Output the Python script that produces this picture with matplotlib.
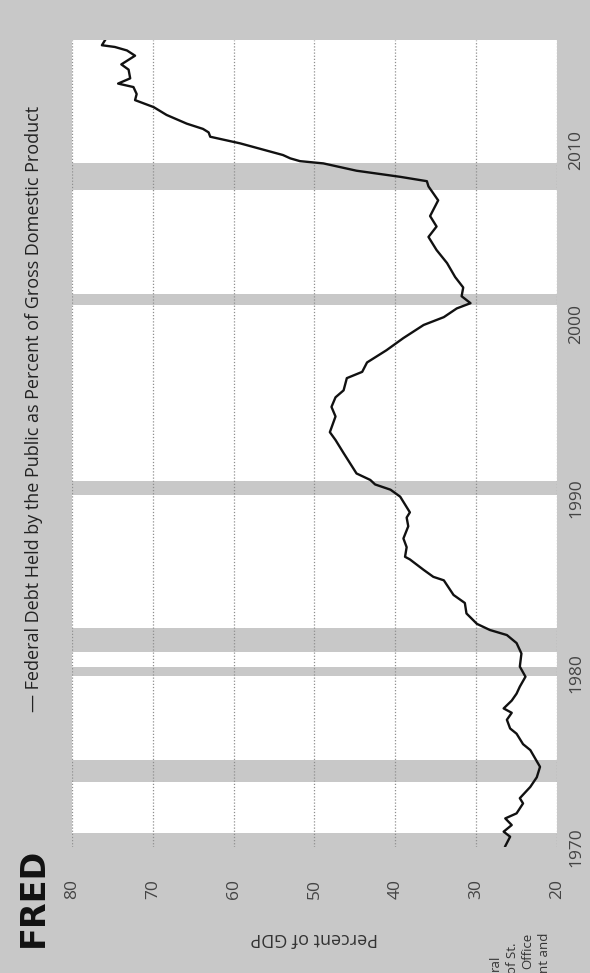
import numpy as np
import matplotlib.pyplot as plt

# decimal year and debt held by the public, percent of GDP
years = [
    1970.05, 1970.59, 1970.88, 1971.26, 1971.64, 1971.93, 1972.50, 1972.80,
    1973.45, 1974.00, 1974.60, 1975.56, 1975.90, 1976.50, 1976.80, 1977.30,
    1977.70, 1977.95, 1978.40, 1978.80, 1979.20, 1979.77, 1980.35, 1981.10,
    1981.70, 1982.16, 1982.45, 1982.80, 1983.40, 1984.00, 1984.46, 1985.30,
    1985.50, 1985.90, 1986.50, 1986.65, 1987.20, 1987.70, 1988.40, 1988.90,
    1989.20, 1990.10, 1990.50, 1990.80, 1991.06, 1991.43, 1992.60, 1993.35,
    1993.80, 1994.70, 1995.25, 1995.80, 1996.20, 1996.90, 1997.26, 1997.80,
    1998.50, 1999.20, 1999.95, 2000.40, 2000.90, 2001.20, 2001.60, 2002.10,
    2002.70, 2003.50, 2004.25, 2005.00, 2005.60, 2006.20, 2007.10, 2007.90,
    2008.20, 2008.45, 2008.80, 2009.22, 2009.35, 2009.51, 2009.70, 2010.37,
    2010.75, 2011.00, 2011.20, 2011.50, 2012.00, 2012.45, 2012.85, 2013.20,
    2013.60, 2013.80, 2014.10, 2014.60, 2014.90, 2015.40, 2015.70, 2015.90,
    2016.00, 2016.30,
]
debt_pct = [
    26.4, 25.8, 26.6, 25.6, 26.4, 25.0, 24.2, 24.6,
    23.3, 22.5, 22.1, 23.3, 24.2, 25.0, 25.8, 26.2,
    25.6, 26.6, 25.6, 25.0, 24.6, 23.9, 24.6, 24.4,
    25.0, 26.2, 28.3, 29.9, 31.2, 31.4, 32.8, 34.0,
    35.3, 36.5, 38.2, 38.8, 38.6, 39.0, 38.4, 38.6,
    38.2, 39.4, 40.6, 42.5, 43.1, 44.8, 46.4, 47.4,
    48.1, 47.4, 47.9, 47.4, 46.4, 46.0, 44.1, 43.5,
    41.1, 39.0, 36.5, 34.0, 32.4, 30.7, 31.8, 31.6,
    32.6, 33.6, 34.9, 35.9, 34.9, 35.7, 34.7, 35.9,
    36.1, 39.4, 44.8, 48.9, 51.8, 53.0, 53.9, 59.2,
    62.9, 63.1, 63.8, 65.8, 68.3, 69.9, 72.2, 72.0,
    72.4, 74.3, 72.8, 73.0, 73.9, 72.2, 73.2, 74.7,
    76.3, 75.9,
]

# recession periods (start, end) in decimal years
recessions = [
    (1969.9, 1970.8),
    (1973.75, 1975.0),
    (1979.8, 1980.3),
    (1981.2, 1982.55),
    (1990.2, 1991.0),
    (2001.1, 2001.7),
    (2007.7, 2009.25),
]

value_ticks = [20, 30, 40, 50, 60, 70, 80]
year_ticks = [1970, 1980, 1990, 2000, 2010]
# only the ends of the source note lines are visible in the scan
source_bits = ["ral", "of St.", "Office", "nt and"]

bg = "#c8c8c8"
plt.rcParams["font.family"] = ["Open Sans", "DejaVu Sans"]

W, H = 590, 973
fig = plt.figure(figsize=(W / 100, H / 100), dpi=100)
fig.patch.set_facecolor(bg)

# chart is drawn turned on its side: years run upward, values run right to left
ax = fig.add_axes([72 / W, 1 - 847 / H, 485 / W, 807 / H])
ax.set_facecolor("white")

for start, end in recessions:
    ax.axhspan(start, end, color=bg, lw=0, zorder=1)

ax.plot(debt_pct, years, color="#111111", lw=1.7, zorder=3)

ax.set_xlim(80, 20)
ax.set_ylim(1970.0, 2016.3)
ax.set_xticks(value_ticks)
ax.set_xticklabels([str(v) for v in value_ticks], rotation=90)
ax.set_yticks(year_ticks)
ax.set_yticklabels([str(y) for y in year_ticks], rotation=90, va="center")
ax.yaxis.tick_right()

ax.tick_params(axis="x", length=0, pad=23, labelsize=12.5, labelcolor="#444444")
ax.tick_params(axis="y", length=0, pad=8, labelsize=12.5, labelcolor="#444444")
ax.grid(axis="x", color="#8f8f8f", lw=0.9, ls=(0, (1, 1.5)), zorder=2)
ax.set_axisbelow(False)
for s in ax.spines.values():
    s.set_visible(False)

ax.set_xlabel("Percent of GDP", rotation=180, fontsize=13, color="#333333", va="center")
ax.xaxis.set_label_coords(0.5, (847 - 938) / 807)

# legend / title line along the left side
fig.text(34 / W, 1 - 712 / H,
         "\u2014 Federal Debt Held by the Public as Percent of Gross Domestic Product",
         rotation=90, rotation_mode="anchor", ha="left", va="center",
         fontsize=13, color="#222222")

# FRED logo text
fig.text(33 / W, 1 - 947 / H, "FRED", rotation=90, rotation_mode="anchor",
         ha="left", va="center", fontsize=24, fontweight="heavy",
         family=["DejaVu Sans"], color="#111111")

# source note fragments at the lower edge
xs = [495, 512, 528, 545]
ends = [955, 943, 933, 933]
for bit, x, e in zip(source_bits, xs, ends):
    fig.text(x / W, 1 - e / H, bit, rotation=90, rotation_mode="anchor",
             ha="right", va="center", fontsize=9.5, color="#333333")

fig.savefig("out.png", dpi=100, facecolor=bg)
